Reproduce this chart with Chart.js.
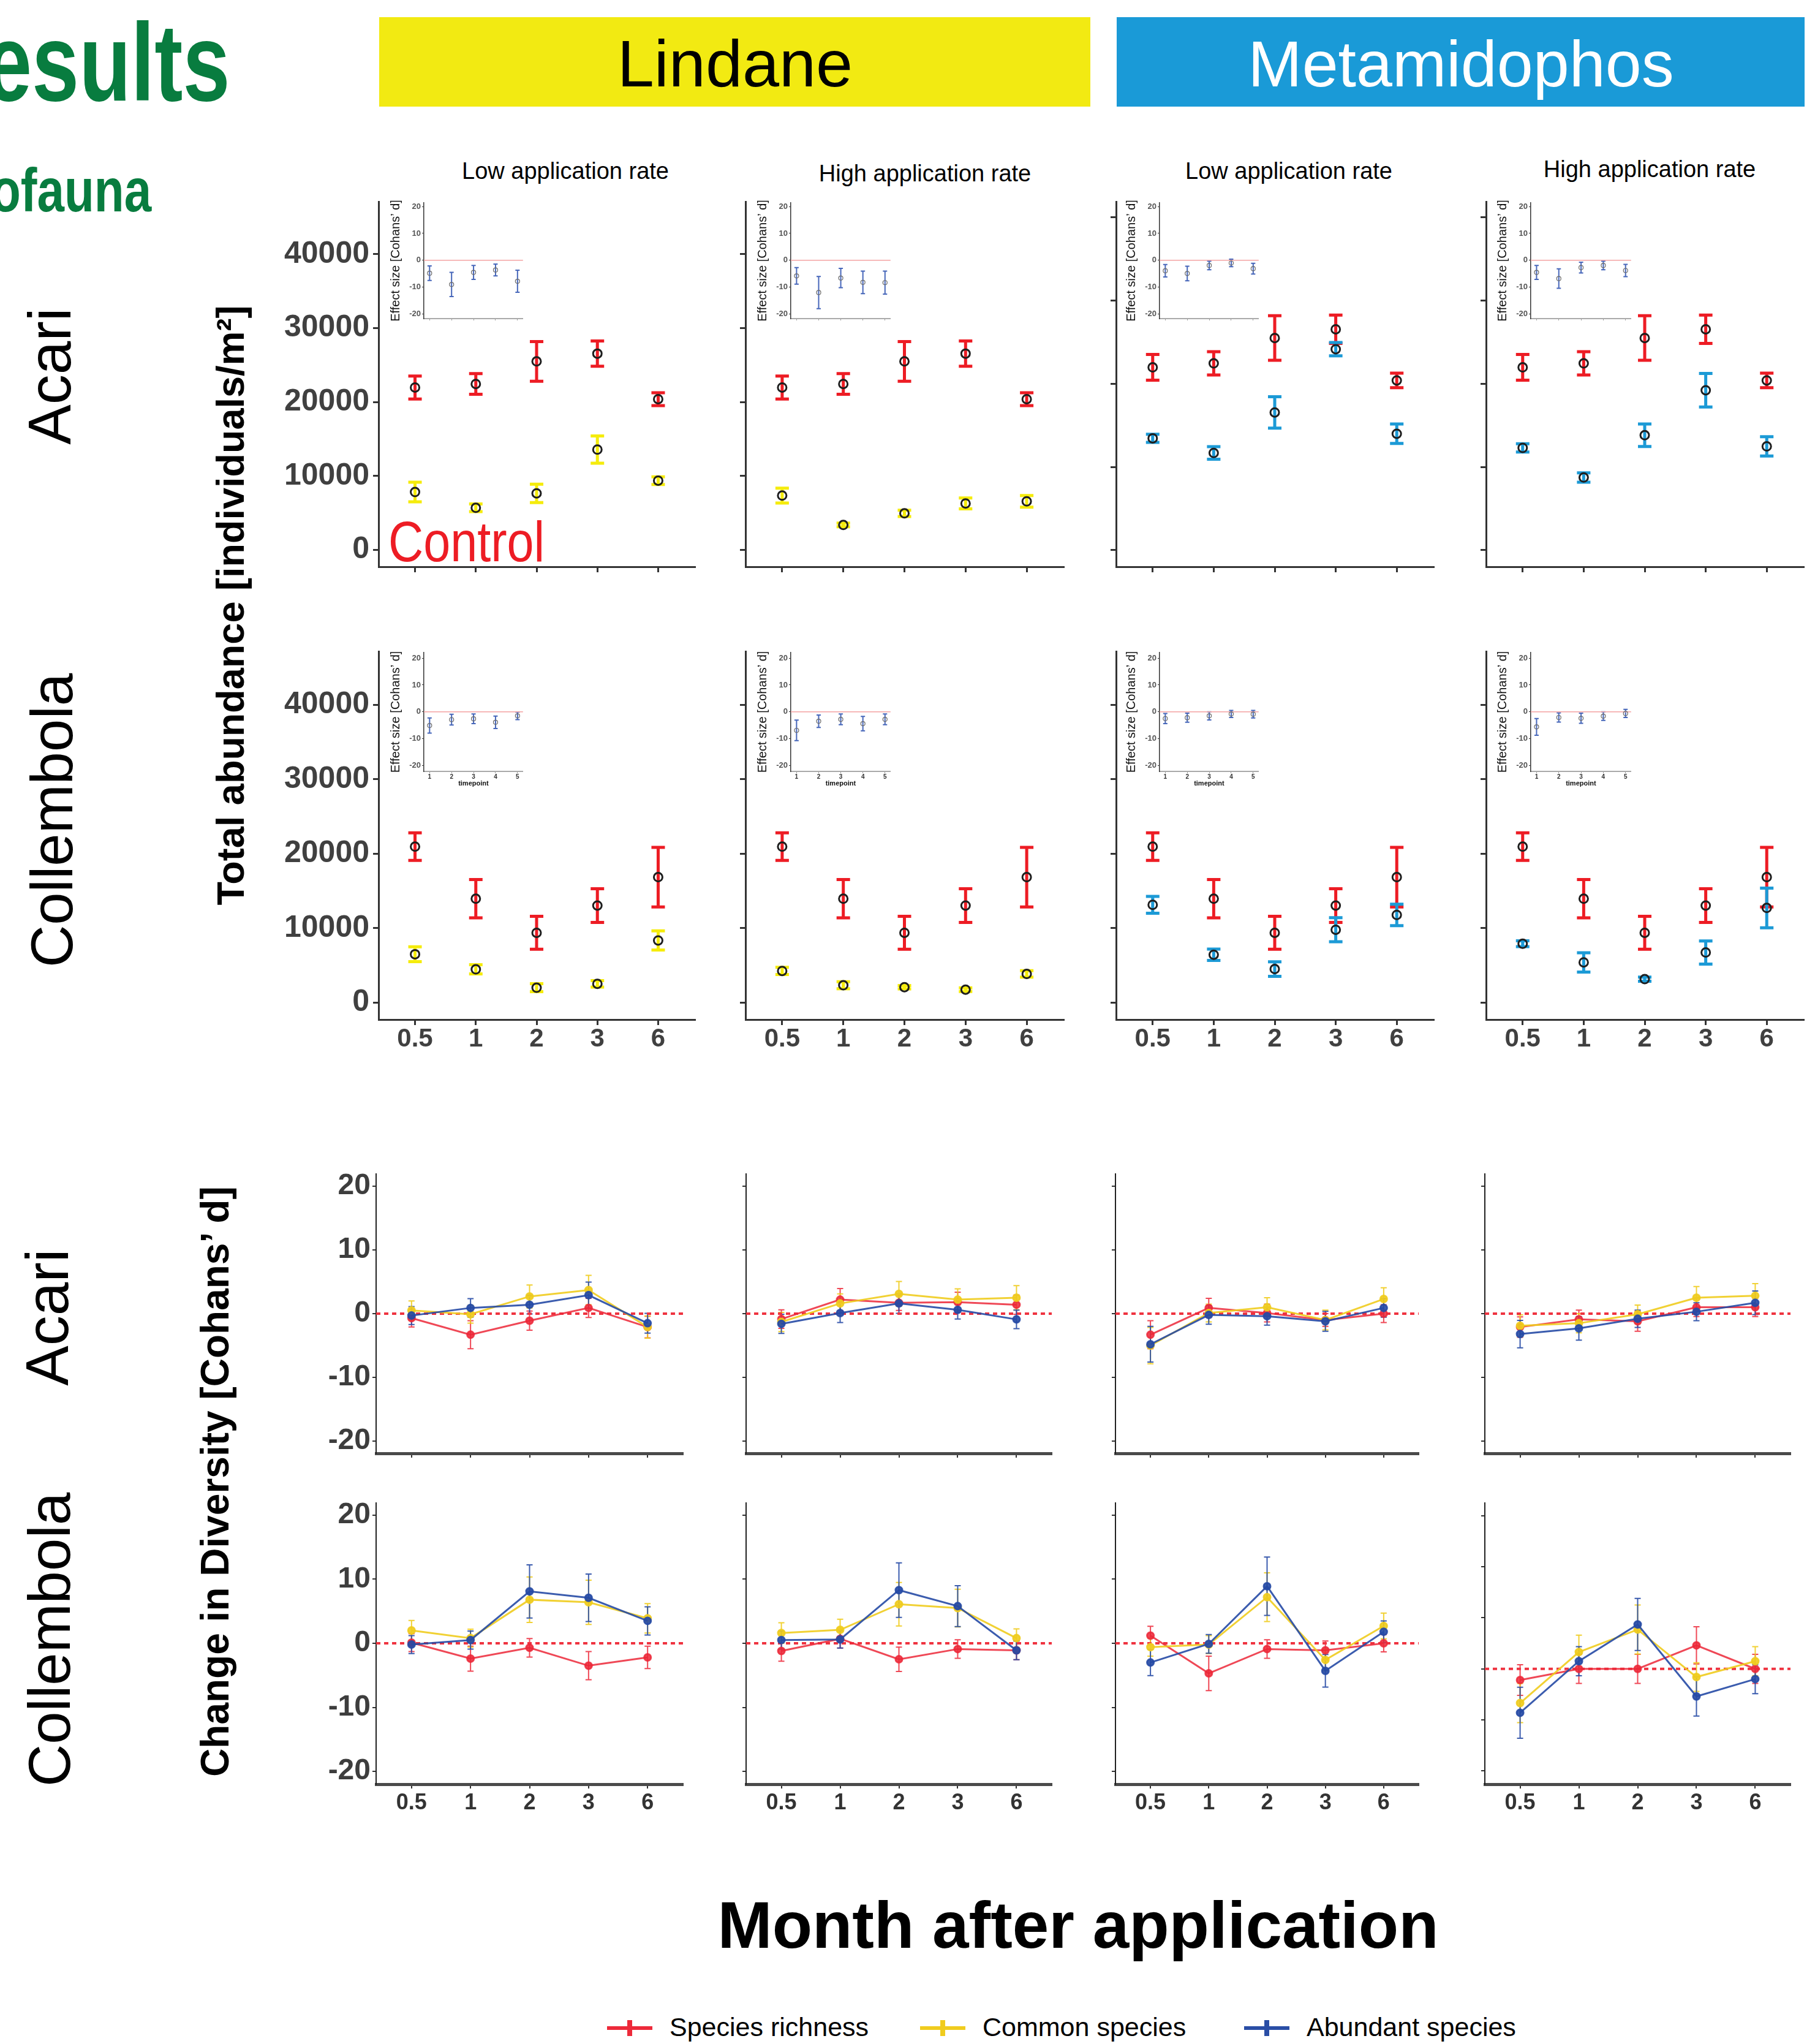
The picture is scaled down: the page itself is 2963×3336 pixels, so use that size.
<!DOCTYPE html>
<html>
<head>
<meta charset="utf-8">
<script src="https://cdn.jsdelivr.net/npm/chart.js@4.4.1/dist/chart.umd.min.js"></script>
<style>
  body{margin:0;width:2963px;height:3336px;position:relative;overflow:hidden;background:#fff;font-family:'Liberation Sans',Arial,sans-serif}
  .t{position:absolute;white-space:nowrap;line-height:1}
  .c{transform:translate(-50%,-50%)}
  .r{transform:translate(-50%,-50%) rotate(-90deg)}
  .box{position:absolute}
  .lg{position:absolute}
</style>
</head>
<body>

<div class="t" style="left:-25px;top:12px;font-size:180px;font-weight:bold;color:#087c3f;transform:scaleX(0.77);transform-origin:0 0">esults</div>
<div class="t" style="left:-15px;top:260px;font-size:100px;font-weight:bold;color:#087c3f;transform:scaleX(0.8);transform-origin:0 0">ofauna</div>

<div class="box" style="left:619px;top:28px;width:1161px;height:146px;background:#f2ea12"></div>
<div class="box" style="left:1823px;top:28px;width:1123px;height:146px;background:#1a9ad7"></div>
<div class="t c" style="left:1200px;top:104px;font-size:108px;color:#000">Lindane</div>
<div class="t c" style="left:2385px;top:104px;font-size:106px;color:#fff">Metamidophos</div>

<div class="t c" style="left:923px;top:279px;font-size:38px">Low application rate</div>
<div class="t c" style="left:1510px;top:283px;font-size:38px">High application rate</div>
<div class="t c" style="left:2104px;top:279px;font-size:38px">Low application rate</div>
<div class="t c" style="left:2693px;top:276px;font-size:38px">High application rate</div>

<div class="t r" style="left:81px;top:614px;font-size:98px">Acari</div>
<div class="t r" style="left:85px;top:1339px;font-size:96px">Collembola</div>
<div class="t r" style="left:77px;top:2150px;font-size:98px">Acari</div>
<div class="t r" style="left:81px;top:2676px;font-size:96px">Collembola</div>

<div class="t r" style="left:376px;top:988px;font-size:63px;font-weight:bold">Total abundance [individuals/m²]</div>
<div class="t r" style="left:351px;top:2418px;font-size:64px;font-weight:bold">Change in Diversity [Cohans’ d]</div>

<div class="t" style="left:634px;top:838px;font-size:92px;color:#ed1c24;transform:scaleX(0.86);transform-origin:0 0">Control</div>

<div class="t c" style="left:1760px;top:3142px;font-size:107px;font-weight:bold">Month after application</div>

<div id="legend"></div>

<script>
const FONT = "'Liberation Sans', Arial, sans-serif";
Chart.defaults.font.family = FONT;

// ===== data =====
const months = ['0.5', '1', '2', '3', '6'];
const timepoints = [1, 2, 3, 4, 5];
const abundTicks = [0, 10000, 20000, 30000, 40000];
const effectTicks = [-20, -10, 0, 10, 20];
const divTicks = [-20, -10, 0, 10, 20];
const divTicksWide = [-20, -10, 0, 10, 20, 30];
const refLevel = 0;
const seriesNames = ['Species richness', 'Common species', 'Abundant species'];

// Total abundance, Acari (individuals/m²)
const acariCtrl = [21970, 22450, 25500, 26550, 20400], acariCtrlE = [1550, 1400, 2680, 1700, 870];
const acariLinLow = [7840, 5710, 7660, 13580, 9380], acariLinLowE = [1330, 520, 1250, 1850, 520];
const acariLinHigh = [7360, 3390, 4960, 6300, 6580], acariLinHighE = [1010, 250, 430, 730, 790];
const acariMetLow = [13440, 11680, 16550, 24150, 13990], acariMetLowE = [490, 760, 1890, 800, 1170];
const acariMetHigh = [12290, 8730, 13810, 19220, 12470], acariMetHighE = [490, 560, 1360, 2020, 1160];

// Total abundance, Collembola
const collCtrl = [20950, 13950, 9370, 13030, 16850], collCtrlE = [1850, 2580, 2220, 2270, 4000];
const collLinLow = [6490, 4460, 1990, 2510, 8340], collLinLowE = [1000, 620, 530, 430, 1290];
const collLinHigh = [4240, 2320, 2060, 1730, 3840], collLinHighE = [480, 480, 230, 250, 430];
const collMetLow = [13130, 6420, 4500, 9780, 11770], collMetLowE = [1140, 760, 980, 1620, 1440];
const collMetHigh = [7900, 5390, 3140, 6720, 12710], collMetHighE = [400, 1300, 280, 1550, 2660];

// Inset effect sizes (Cohans' d) per timepoint
const esA1 = [-4.8, -9.0, -4.5, -3.6, -7.8], esA1E = [2.7, 4.5, 2.6, 2.2, 4.1];
const esA2 = [-5.8, -12.0, -6.6, -8.2, -8.3], esA2E = [3.1, 6.0, 3.6, 4.2, 4.3];
const esA3 = [-3.9, -4.9, -1.9, -1.0, -3.1], esA3E = [2.3, 2.7, 1.6, 1.4, 2.0];
const esA4 = [-4.5, -6.8, -2.7, -1.9, -3.8], esA4E = [2.6, 3.6, 2.0, 1.6, 2.3];
const esC1 = [-5.1, -2.9, -2.6, -3.9, -1.5], esC1E = [2.8, 2.0, 1.8, 2.3, 1.4];
const esC2 = [-6.9, -3.5, -2.8, -4.4, -2.8], esC2E = [3.8, 2.3, 2.0, 2.7, 2.0];
const esC3 = [-2.5, -2.2, -1.5, -0.8, -0.9], esC3E = [1.9, 1.7, 1.5, 1.3, 1.4];
const esC4 = [-5.6, -2.1, -2.4, -1.6, -0.6], esC4E = [3.1, 1.7, 1.9, 1.6, 1.5];

// Change in diversity, Acari: richness / common / abundant
const dA1r = [-0.7, -3.3, -1.1, 0.9, -2.1], dA1rE = [1.4, 2.2, 1.5, 1.5, 1.7];
const dA1c = [0.5, -0.1, 2.7, 3.7, -2.1], dA1cE = [1.5, 1.4, 1.8, 2.3, 1.75];
const dA1a = [-0.3, 0.9, 1.4, 2.9, -1.5], dA1aE = [1.4, 1.45, 1.45, 2.05, 1.55];
const dA2r = [-0.85, 2.2, 1.7, 1.8, 1.4], dA2rE = [1.45, 1.75, 1.2, 1.55, 1.5];
const dA2c = [-1.3, 1.6, 3.1, 2.2, 2.5], dA2cE = [1.5, 1.5, 1.95, 1.7, 1.9];
const dA2a = [-1.6, 0.1, 1.6, 0.6, -0.9], dA2aE = [1.5, 1.5, 1.55, 1.45, 1.45];
const dA3r = [-3.3, 0.9, 0.1, -1.0, 0.0], dA3rE = [2.2, 1.5, 1.4, 1.0, 1.4];
const dA3c = [-5.0, 0.1, 1.0, -1.0, 2.3], dA3cE = [2.85, 1.4, 1.5, 1.55, 1.75];
const dA3a = [-4.8, -0.2, -0.4, -1.2, 0.9], dA3aE = [2.8, 1.45, 1.4, 1.55, 1.45];
const dA4r = [-2.1, -0.9, -1.2, 1.0, 1.0], dA4rE = [1.6, 1.45, 1.55, 1.45, 1.45];
const dA4c = [-1.9, -1.5, -0.1, 2.5, 2.8], dA4cE = [1.7, 1.5, 1.45, 1.75, 1.9];
const dA4a = [-3.2, -2.3, -0.8, 0.3, 1.7], dA4aE = [2.15, 1.85, 1.35, 1.4, 1.85];

// Change in diversity, Collembola
const dC1r = [0.1, -2.4, -0.7, -3.5, -2.2], dC1rE = [1.4, 1.95, 1.45, 2.2, 1.75];
const dC1c = [2.0, 0.8, 6.8, 6.4, 3.9], dC1cE = [1.55, 1.4, 3.55, 3.45, 2.3];
const dC1a = [-0.2, 0.5, 8.1, 7.1, 3.5], dC1aE = [1.4, 1.4, 4.15, 3.7, 2.2];
const dC2r = [-1.2, 0.7, -2.5, -0.9, -1.1], dC2rE = [1.6, 1.45, 1.9, 1.45, 1.45];
const dC2c = [1.6, 2.1, 6.1, 5.5, 0.8], dC2cE = [1.6, 1.65, 3.4, 2.95, 1.45];
const dC2a = [0.5, 0.6, 8.3, 5.8, -1.1], dC2aE = [1.4, 1.35, 4.25, 3.2, 1.45];
const dC3r = [1.2, -4.7, -0.9, -1.1, 0.0], dC3rE = [1.45, 2.7, 1.45, 1.45, 1.35];
const dC3c = [-0.6, -0.2, 7.2, -2.6, 2.7], dC3cE = [1.4, 1.4, 3.8, 1.7, 2.0];
const dC3a = [-3.0, -0.1, 8.9, -4.3, 1.8], dC3aE = [2.05, 1.45, 4.55, 2.55, 1.7];
const dC4r = [-2.2, 0.0, 0.0, 4.6, 0.0], dC4rE = [3.0, 2.85, 2.85, 3.65, 2.85];
const dC4c = [-6.7, 3.3, 7.7, -1.6, 1.5], dC4cE = [3.85, 3.3, 4.8, 2.8, 2.85];
const dC4a = [-8.6, 1.5, 8.7, -5.4, -2.0], dC4aE = [5.0, 2.85, 5.1, 3.85, 2.85];

// ===== layout (plot boxes in page px) =====
const COLS_AB = [[618, 1134], [1217, 1736], [1822, 2340], [2426, 2944]];
const ROWS_AB = [[329, 925], [1063, 1664]];
const COLS_DV = [[614, 1115], [1218, 1717], [1821, 2316], [2424, 2923]];
const ROWS_DV = [[1916, 2372], [2453, 2912]];
const INSET_X = [[692, 855], [1291, 1455], [1893, 2056], [2499, 2664]];
const INSET_Y = [[331, 520], [1065, 1259]];

const RED = '#ed1c24', YEL = '#f5ec0c', CYAN = '#1c9ad6';
const DV_COL = ['rgba(236,40,56,0.85)', 'rgba(240,204,30,0.9)', 'rgba(38,74,165,0.9)'];
const DV_SOLID = ['#ed2a3a', '#f0cc1e', '#2a4ea6'];

// ===== plugins =====
const errorBars = {
  id: 'errorBars',
  beforeDatasetsDraw(chart, args, o) {
    const {ctx, scales: {x, y}} = chart;
    chart.data.datasets.forEach((ds, i) => {
      if (!ds.errs) return;
      ctx.save();
      ctx.strokeStyle = ds.errColor;
      ctx.lineWidth = o.lineWidth;
      ds.data.forEach((p, j) => {
        const px = x.getPixelForValue(p.x);
        const t = y.getPixelForValue(p.y + ds.errs[j]), b = y.getPixelForValue(p.y - ds.errs[j]);
        ctx.beginPath();
        ctx.moveTo(px, t); ctx.lineTo(px, b);
        ctx.moveTo(px - o.cap, t); ctx.lineTo(px + o.cap, t);
        ctx.moveTo(px - o.cap, b); ctx.lineTo(px + o.cap, b);
        ctx.stroke();
      });
      ctx.restore();
    });
  }
};
const zeroLine = {
  id: 'zeroLine',
  beforeDatasetsDraw(chart, args, o) {
    const {ctx, chartArea: a, scales: {y}} = chart;
    const py = y.getPixelForValue(refLevel);
    ctx.save();
    ctx.strokeStyle = o.color; ctx.lineWidth = o.width; ctx.setLineDash(o.dash || []);
    ctx.beginPath(); ctx.moveTo(a.left, py); ctx.lineTo(a.right, py); ctx.stroke();
    ctx.restore();
  }
};

function pts(arr, xs) { return arr.map((v, i) => ({x: xs ? xs[i] : i, y: v})); }

function mkCanvas(l, t, w, h) {
  const c = document.createElement('canvas');
  c.width = w; c.height = h;
  c.style.cssText = `position:absolute;left:${l}px;top:${t}px;width:${w}px;height:${h}px`;
  document.body.appendChild(c);
  return c;
}

function baseOpts(padT, padR, extraPlugins) {
  return {
    responsive: false, animation: false, events: [],
    layout: {padding: {top: padT, right: padR, left: 0, bottom: 0}},
    plugins: Object.assign({legend: {display: false}, tooltip: {enabled: false}}, extraPlugins)
  };
}

// ===== abundance panels =====
function abundance(col, row, ctrl, ctrlE, trt, trtE, trtColor, yMin, yMax) {
  const [L, R] = COLS_AB[col], [T, B] = ROWS_AB[row];
  const yW = col === 0 ? 160 : 20, xH = row === 1 ? 75 : 45, padT = 40, padR = 12;
  const cv = mkCanvas(L - yW, T - padT, yW + (R - L) + padR, padT + (B - T) + xH);
  const pt = {pointRadius: 7, pointBorderWidth: 3, pointBorderColor: '#1e1e1e', pointBackgroundColor: 'rgba(0,0,0,0)', showLine: false};
  const opts = baseOpts(padT, padR, {errorBars: {lineWidth: 5, cap: 11}});
  opts.scales = {
    x: {type: 'linear', min: -0.6, max: 4.6,
        afterBuildTicks: s => { s.ticks = months.map((m, i) => ({value: i})); },
        afterFit: s => { s.height = xH; },
        ticks: {display: row === 1, callback: v => months[v], font: {size: 42, weight: 'bold'}, color: '#404040', padding: -2, maxRotation: 0, autoSkip: false},
        grid: {drawOnChartArea: false, tickLength: 9, color: '#333', lineWidth: 3},
        border: {color: '#333', width: 3}},
    y: {min: yMin, max: yMax,
        afterBuildTicks: s => { s.ticks = abundTicks.map(v => ({value: v})); },
        afterFit: s => { s.width = yW; },
        ticks: {display: col === 0, callback: v => String(v), font: {size: 50, weight: 'bold'}, color: '#404040', padding: 6},
        grid: {drawOnChartArea: false, tickLength: 9, color: '#333', lineWidth: 3},
        border: {color: '#333', width: 3}}
  };
  new Chart(cv, {
    type: 'scatter',
    data: {datasets: [
      Object.assign({label: 'Control', data: pts(ctrl), errs: ctrlE, errColor: RED}, pt),
      Object.assign({label: 'Treatment', data: pts(trt), errs: trtE, errColor: trtColor}, pt)
    ]},
    options: opts,
    plugins: [errorBars]
  });
}

// ===== inset effect-size panels =====
function inset(col, row, m, e, yMin, yMax) {
  const [L, R] = INSET_X[col], [T, B] = INSET_Y[row];
  const yW = 58, xH = row === 1 ? 27 : 10, padT = 16, padR = 4;
  const cv = mkCanvas(L - yW, T - padT, yW + (R - L) + padR, padT + (B - T) + xH);
  const opts = baseOpts(padT, padR, {errorBars: {lineWidth: 2, cap: 3.5}, zeroLine: {color: '#f4a3a3', width: 1.5}});
  opts.scales = {
    x: {type: 'linear', min: 0.74, max: 5.25,
        afterBuildTicks: s => { s.ticks = timepoints.map(v => ({value: v})); },
        afterFit: s => { s.height = xH; },
        ticks: {display: row === 1, font: {size: 10, weight: 'bold'}, color: '#333', padding: 0, maxRotation: 0},
        title: {display: row === 1, text: 'timepoint', font: {size: 11, weight: 'bold'}, color: '#111', padding: 0},
        grid: {drawOnChartArea: false, tickLength: 3, color: '#999', lineWidth: 1},
        border: {color: '#aaa', width: 2}},
    y: {min: yMin, max: yMax,
        afterBuildTicks: s => { s.ticks = effectTicks.map(v => ({value: v})); },
        afterFit: s => { s.width = yW; },
        ticks: {font: {size: 13, weight: 'bold'}, color: '#555', padding: 2},
        title: {display: true, text: 'Effect size [Cohans’ d]', font: {size: 20}, color: '#111', padding: 0},
        grid: {drawOnChartArea: false, tickLength: 3, color: '#333', lineWidth: 1},
        border: {color: '#333', width: 1.5}}
  };
  new Chart(cv, {
    type: 'scatter',
    data: {datasets: [{label: 'Effect size', data: pts(m, timepoints), errs: e, errColor: '#4767ba',
      pointRadius: 3.5, pointBorderWidth: 1.2, pointBorderColor: '#6b6b6b', pointBackgroundColor: 'rgba(0,0,0,0)', showLine: false}]},
    options: opts,
    plugins: [errorBars, zeroLine]
  });
}

// ===== diversity panels =====
function diversity(col, row, series, yMin, yMax, ticksArr) {
  const [L, R] = COLS_DV[col], [T, B] = ROWS_DV[row];
  const yW = col === 0 ? 110 : 20, xH = row === 1 ? 62 : 40, padT = 36, padR = 10;
  const cv = mkCanvas(L - yW, T - padT, yW + (R - L) + padR, padT + (B - T) + xH);
  const opts = baseOpts(padT, padR, {errorBars: {lineWidth: 2, cap: 5}, zeroLine: {color: '#ef3340', width: 4, dash: [7, 6]}});
  opts.scales = {
    x: {type: 'linear', min: -0.6, max: 4.6,
        afterBuildTicks: s => { s.ticks = months.map((m, i) => ({value: i})); },
        afterFit: s => { s.height = xH; },
        ticks: {display: row === 1, callback: v => months[v], font: {size: 36, weight: 'bold'}, color: '#333', padding: 2, maxRotation: 0, autoSkip: false},
        grid: {drawOnChartArea: false, tickLength: 7, color: '#333', lineWidth: 2},
        border: {color: '#4a4a4a', width: 5}},
    y: {min: yMin, max: yMax,
        afterBuildTicks: s => { s.ticks = ticksArr.map(v => ({value: v})); },
        afterFit: s => { s.width = yW; },
        ticks: {display: col === 0, font: {size: 48, weight: 'bold'}, color: '#3d3d3d', padding: 3},
        grid: {drawOnChartArea: false, tickLength: 6, color: '#333', lineWidth: 2},
        border: {color: '#222', width: 2}}
  };
  const ds = series.map((s, k) => ({
    label: seriesNames[k], data: pts(s[0]), errs: s[1], errColor: DV_COL[k],
    borderColor: DV_COL[k], backgroundColor: DV_COL[k], pointBackgroundColor: DV_COL[k], pointBorderColor: DV_COL[k],
    borderWidth: 3, pointRadius: 5.5, tension: 0, order: 3 - k
  }));
  new Chart(cv, {type: 'line', data: {datasets: ds}, options: opts, plugins: [errorBars, zeroLine]});
}

// ===== build =====
abundance(0, 0, acariCtrl, acariCtrlE, acariLinLow, acariLinLowE, YEL, -2260, 47100);
abundance(1, 0, acariCtrl, acariCtrlE, acariLinHigh, acariLinHighE, YEL, -2260, 47100);
abundance(2, 0, acariCtrl, acariCtrlE, acariMetLow, acariMetLowE, CYAN, -2000, 41900);
abundance(3, 0, acariCtrl, acariCtrlE, acariMetHigh, acariMetHighE, CYAN, -2000, 41900);
abundance(0, 1, collCtrl, collCtrlE, collLinLow, collLinLowE, YEL, -2290, 47200);
abundance(1, 1, collCtrl, collCtrlE, collLinHigh, collLinHighE, YEL, -2290, 47200);
abundance(2, 1, collCtrl, collCtrlE, collMetLow, collMetLowE, CYAN, -2290, 47200);
abundance(3, 1, collCtrl, collCtrlE, collMetHigh, collMetHighE, CYAN, -2290, 47200);

inset(0, 0, esA1, esA1E, -21.7, 21.4);
inset(1, 0, esA2, esA2E, -21.7, 21.4);
inset(2, 0, esA3, esA3E, -21.7, 21.4);
inset(3, 0, esA4, esA4E, -21.7, 21.4);
inset(0, 1, esC1, esC1E, -22.2, 22.1);
inset(1, 1, esC2, esC2E, -22.2, 22.1);
inset(2, 1, esC3, esC3E, -22.2, 22.1);
inset(3, 1, esC4, esC4E, -22.2, 22.1);

diversity(0, 0, [[dA1r, dA1rE], [dA1c, dA1cE], [dA1a, dA1aE]], -21.9, 21.9, divTicks);
diversity(1, 0, [[dA2r, dA2rE], [dA2c, dA2cE], [dA2a, dA2aE]], -21.9, 21.9, divTicks);
diversity(2, 0, [[dA3r, dA3rE], [dA3c, dA3cE], [dA3a, dA3aE]], -21.9, 21.9, divTicks);
diversity(3, 0, [[dA4r, dA4rE], [dA4c, dA4cE], [dA4a, dA4aE]], -21.9, 21.9, divTicks);
diversity(0, 1, [[dC1r, dC1rE], [dC1c, dC1cE], [dC1a, dC1aE]], -22, 21.9, divTicks);
diversity(1, 1, [[dC2r, dC2rE], [dC2c, dC2cE], [dC2a, dC2aE]], -22, 21.9, divTicks);
diversity(2, 1, [[dC3r, dC3rE], [dC3c, dC3cE], [dC3a, dC3aE]], -22, 21.9, divTicks);
diversity(3, 1, [[dC4r, dC4rE], [dC4c, dC4cE], [dC4a, dC4aE]], -22.6, 32.5, divTicksWide);

// ===== legend =====
const legendX = [991, 1502, 2031];
const lg = document.getElementById('legend');
seriesNames.forEach((name, k) => {
  const x = legendX[k], col = DV_SOLID[k];
  lg.insertAdjacentHTML('beforeend',
    `<div class="lg" style="left:${x}px;top:3307px;width:74px;height:6px;background:${col}"></div>` +
    `<div class="lg" style="left:${x + 33}px;top:3297px;width:8px;height:26px;background:${col}"></div>` +
    `<div class="t" style="left:${x + 102}px;top:3287px;font-size:43px">${name}</div>`);
});
</script>
</body>
</html>
